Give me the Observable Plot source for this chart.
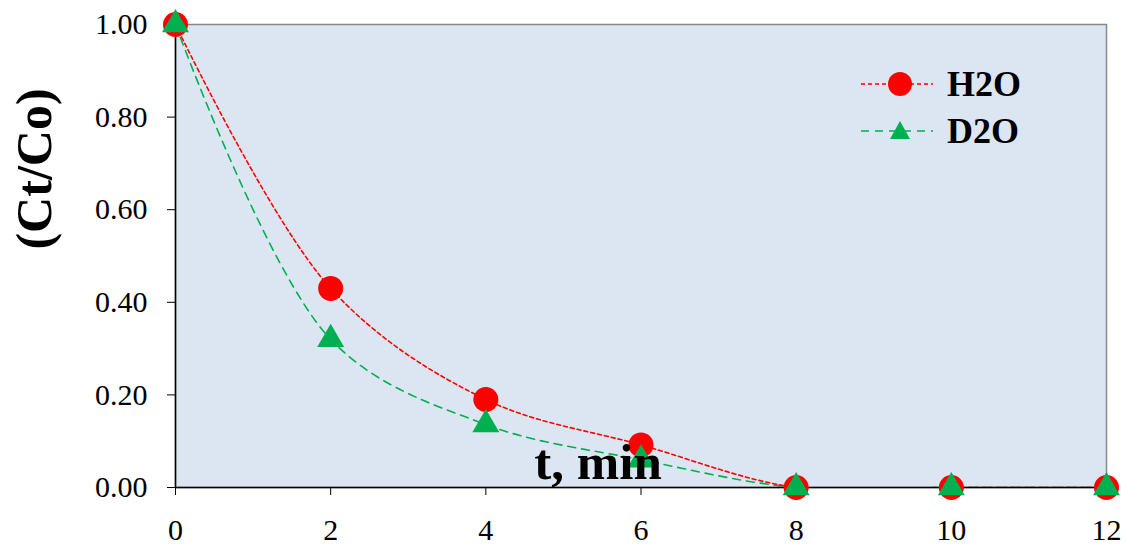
<!DOCTYPE html>
<html>
<head>
<meta charset="utf-8">
<script src="https://cdn.jsdelivr.net/npm/d3@7"></script>
<script src="https://cdn.jsdelivr.net/npm/@observablehq/plot@0.6"></script>
<style>
  html, body { margin: 0; padding: 0; background: #fff; }
  #wrap { position: relative; width: 1127px; height: 546px; font-family: "Liberation Serif", "Times New Roman", serif; }
  #legend { position: absolute; left: 861px; top: 60px; font-weight: bold; font-size: 36px; color: #000; }
  .row { display: flex; align-items: center; height: 47px; }
  .row svg { margin-right: 14px; }
</style>
</head>
<body>
<div id="wrap"></div>
<script>
// Data
const times = [0, 2, 4, 6, 8, 10, 12];
const h2o = [1.00, 0.43, 0.19, 0.092, 0, 0, 0];
const d2o = [1.00, 0.32, 0.136, 0.06, 0, 0, 0];
const seriesNames = ["H2O", "D2O"];
const xTicks = [0, 2, 4, 6, 8, 10, 12];
const yTicks = [0, 0.2, 0.4, 0.6, 0.8, 1.0];
const xLabel = "t, min";
const yLabel = "(Ct/Co)";

const H = times.map((t, i) => ({t, v: h2o[i], s: seriesNames[0]}));
const D = times.map((t, i) => ({t, v: d2o[i], s: seriesNames[1]}));

const red = "#ff0000", green = "#00b050";

const chart = Plot.plot({
  width: 1127,
  height: 546,
  marginLeft: 175,
  marginRight: 21,
  marginTop: 24,
  marginBottom: 59,
  style: {fontFamily: "'Liberation Serif', 'Times New Roman', serif", background: "#fff", color: "#000"},
  x: {domain: [0, 12]},
  y: {domain: [0, 1]},
  marks: [
    Plot.frame({fill: "#dce6f2", stroke: "#888888", strokeWidth: 1.5}),
    Plot.line(D, {x: "t", y: "v", stroke: green, strokeWidth: 1.6, strokeDasharray: "8,6", curve: "catmull-rom", clip: true}),
    Plot.line(H, {x: "t", y: "v", stroke: red, strokeWidth: 1.6, strokeDasharray: "4,3", curve: "catmull-rom", clip: true}),
    Plot.ruleX([0], {stroke: "#000", strokeWidth: 1.5}),
    Plot.ruleY([0], {stroke: "#000", strokeWidth: 1.5}),
    Plot.axisY({ticks: yTicks, tickFormat: d3.format(".2f"), tickSize: 8, tickPadding: 20, fontSize: 30, label: null, stroke: "#000"}),
    Plot.axisX({ticks: xTicks, tickFormat: d => String(d), tickSize: 8, tickPadding: 23, fontSize: 30, label: null, stroke: "#000"}),
    Plot.dot(H, {x: "t", y: "v", r: 12.5, fill: red, stroke: "none"}),
    Plot.dot(D, {x: "t", y: "v", r: 10, symbol: "triangle", fill: green, stroke: "none"}),
    Plot.text([xLabel], {frameAnchor: "bottom", textAnchor: "middle", dx: -43, dy: -9, lineAnchor: "bottom", text: d => d, fontSize: 51, fontWeight: "bold", fill: "#000"}),
    Plot.text([yLabel], {frameAnchor: "left", textAnchor: "middle", lineAnchor: "middle", dx: -141, dy: -87, rotate: -90, text: d => d, fontSize: 50, fontWeight: "bold", fill: "#000"})
  ]
});

const wrap = document.getElementById("wrap");
wrap.appendChild(chart);

// Legend
const legend = document.createElement("div");
legend.id = "legend";
function swatch(color, dash, symbol) {
  const ns = "http://www.w3.org/2000/svg";
  const svg = document.createElementNS(ns, "svg");
  svg.setAttribute("width", 72); svg.setAttribute("height", 30);
  const line = document.createElementNS(ns, "line");
  line.setAttribute("x1", 0); line.setAttribute("x2", 72);
  line.setAttribute("y1", 15); line.setAttribute("y2", 15);
  line.setAttribute("stroke", color); line.setAttribute("stroke-width", 1.6);
  line.setAttribute("stroke-dasharray", dash);
  svg.appendChild(line);
  const p = document.createElementNS(ns, "path");
  if (symbol === "circle") {
    p.setAttribute("d", d3.symbol(d3.symbolCircle, Math.PI * 12 * 12)());
  } else {
    p.setAttribute("d", "M0,-10L10,8L-10,8Z");
  }
  p.setAttribute("transform", "translate(39,15)");
  p.setAttribute("fill", color);
  svg.appendChild(p);
  return svg;
}
[[seriesNames[0], red, "4,3", "circle"], [seriesNames[1], green, "8,6", "triangle"]].forEach(([name, c, dash, sym]) => {
  const row = document.createElement("div");
  row.className = "row";
  row.appendChild(swatch(c, dash, sym));
  const span = document.createElement("span");
  span.textContent = name;
  row.appendChild(span);
  legend.appendChild(row);
});
wrap.appendChild(legend);
</script>
</body>
</html>
